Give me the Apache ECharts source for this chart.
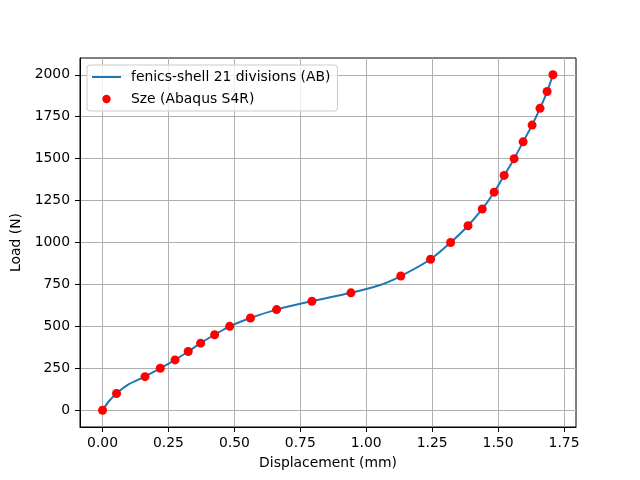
<!DOCTYPE html>
<html>
<head>
<meta charset="utf-8">
<script src="https://cdn.jsdelivr.net/npm/echarts@6/dist/echarts.min.js"></script>
<style>
  html, body { margin: 0; padding: 0; background: #fff; }
  #chart { width: 640px; height: 480px; }
</style>
</head>
<body>
<div id="chart"></div>
<script>
// fenics-shell curve (displacement mm, load N)
const lineDisp = [0, 0.025, 0.053, 0.1, 0.161, 0.219, 0.275, 0.325, 0.372, 0.425, 0.482, 0.561, 0.66, 0.794, 0.942, 1.05, 1.131, 1.244, 1.32, 1.386, 1.44, 1.485, 1.523, 1.561, 1.595, 1.629, 1.659, 1.686, 1.708]
const lineLoad = [0, 55, 100, 155, 200, 250, 300, 350, 400, 450, 500, 550, 600, 650, 700, 745, 800, 900, 1000, 1100, 1200, 1300, 1400, 1500, 1600, 1700, 1800, 1900, 2000]

// Sze reference points (Abaqus S4R)
const szeDisp = [0, 0.053, 0.161, 0.219, 0.275, 0.325, 0.372, 0.425, 0.482, 0.561, 0.66, 0.794, 0.942, 1.131, 1.244, 1.32, 1.386, 1.44, 1.485, 1.523, 1.561, 1.595, 1.629, 1.659, 1.686, 1.708]
const szeLoad = [0, 100, 200, 250, 300, 350, 400, 450, 500, 550, 600, 650, 700, 800, 900, 1000, 1100, 1200, 1300, 1400, 1500, 1600, 1700, 1800, 1900, 2000]

const xTicks = [0, 0.25, 0.5, 0.75, 1.0, 1.25, 1.5, 1.75]
const yTicks = [0, 250, 500, 750, 1000, 1250, 1500, 1750, 2000]

const font = "DejaVu Sans"
const fs = 13.9
const chart = echarts.init(document.getElementById("chart"), null, { renderer: "canvas" })

chart.setOption({
  animation: false,
  backgroundColor: "#ffffff",
  textStyle: { fontFamily: font },
  grid: {
    left: 80, right: 64, top: 58, bottom: 53,
    show: true, borderColor: "#000", borderWidth: 1
  },
  legend: {
    orient: "vertical",
    left: 87, top: 65,
    padding: [5, 7, 5, 5],
    itemWidth: 34, itemHeight: 13, itemGap: 8,
    backgroundColor: "rgba(255,255,255,0.8)",
    borderColor: "#cccccc", borderWidth: 1, borderRadius: 3,
    textStyle: { fontFamily: font, fontSize: fs, color: "#000" },
    data: [
      { name: "fenics-shell 21 divisions (AB)", icon: "path://M0,0 M34,13 M0,5.5 L29,5.5 L29,7.5 L0,7.5 Z" },
      { name: "Sze (Abaqus S4R)", icon: "path://M0,0 M34,13 M18.7,6.5 A4.2,4.2 0 1 1 10.3,6.5 A4.2,4.2 0 1 1 18.7,6.5 Z" }
    ]
  },
  xAxis: {
    type: "value",
    min: -0.0855, max: 1.7955,
    name: "Displacement (mm)",
    nameLocation: "middle", nameGap: 29,
    nameTextStyle: { fontFamily: font, fontSize: fs, color: "#000" },
    axisLine: { show: true, onZero: false, lineStyle: { color: "#000", width: 1 } },
    axisTick: { show: true, length: 5, customValues: xTicks, lineStyle: { color: "#000" } },
    axisLabel: {
      customValues: xTicks, margin: 9, color: "#000", fontSize: fs, fontFamily: font,
      formatter: v => v.toFixed(2)
    },
    splitLine: { show: true, lineStyle: { color: "#b0b0b0", width: 1 } }
  },
  yAxis: {
    type: "value",
    min: -100, max: 2100,
    name: "Load (N)",
    nameLocation: "middle", nameGap: 50, nameRotate: 90,
    nameTextStyle: { fontFamily: font, fontSize: fs, color: "#000" },
    axisLine: { show: true, onZero: false, lineStyle: { color: "#000", width: 1 } },
    axisTick: { show: true, length: 5, customValues: yTicks, lineStyle: { color: "#000" } },
    axisLabel: {
      customValues: yTicks, margin: 10, color: "#000", fontSize: fs, fontFamily: font,
      formatter: v => String(v)
    },
    splitLine: { show: true, lineStyle: { color: "#b0b0b0", width: 1 } }
  },
  series: [
    {
      name: "fenics-shell 21 divisions (AB)",
      type: "line",
      data: lineDisp.map((d, i) => [d, lineLoad[i]]),
      showSymbol: false,
      smooth: 0.3,
      lineStyle: { color: "#1f77b4", width: 2 },
      itemStyle: { color: "#1f77b4" },
      z: 2
    },
    {
      name: "Sze (Abaqus S4R)",
      type: "scatter",
      data: szeDisp.map((d, i) => [d, szeLoad[i]]),
      symbol: "circle",
      symbolSize: 9,
      itemStyle: { color: "#ff0000", opacity: 1 },
      z: 3
    }
  ]
})
</script>
</body>
</html>
